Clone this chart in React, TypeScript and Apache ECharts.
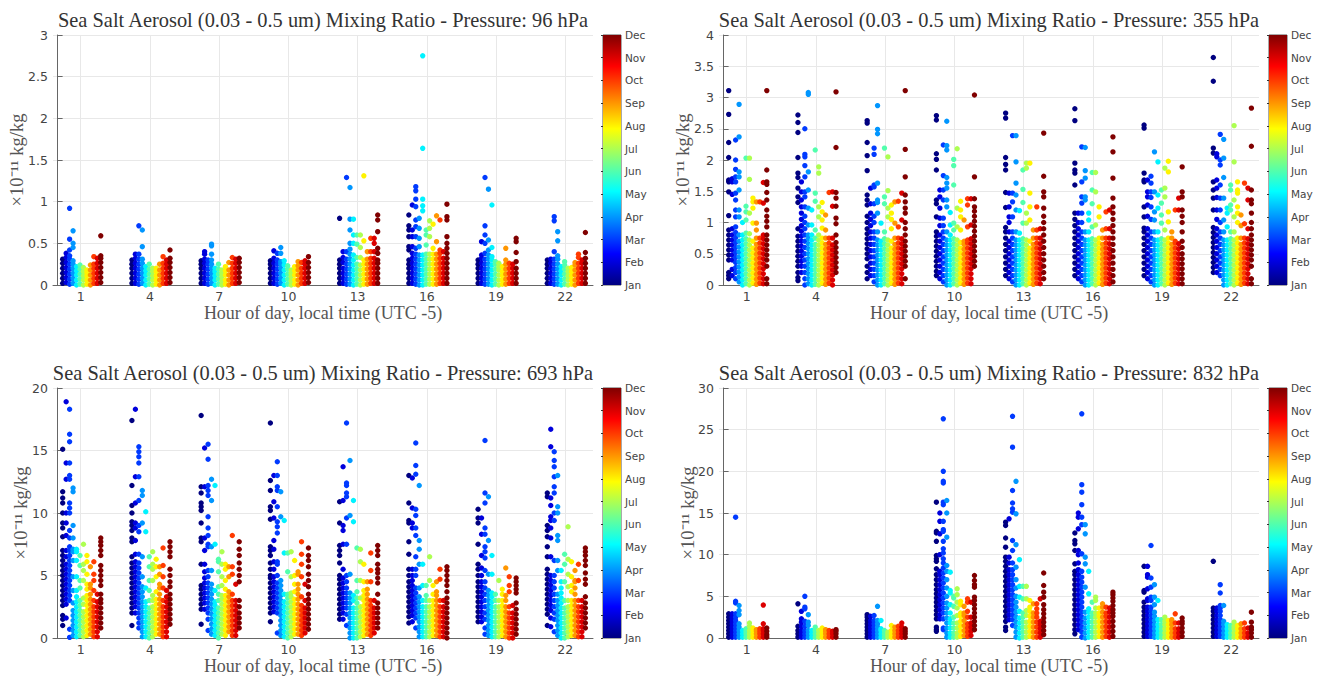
import React, { useEffect, useRef } from "react";
import * as echarts from "echarts";

const months = ["Jan","Feb","Mar","Apr","May","Jun","Jul","Aug","Sep","Oct","Nov","Dec"];
const monthColors = ["#000080","#0000DC","#003AFF","#0096FF","#00F3FF","#52FFAD","#ADFF52","#FFF300","#FF9600","#FF3A00","#DC0000","#800000"];
const hours = [1,4,7,10,13,16,19,22];

// Each hour: Jan..Dec lists of values (x10^-11 kg/kg)
const p96h1 = [[.02,.08,.14,.2,.26,.31],[.03,.09,.15,.21,.27,.33,.38],[.01,.07,.13,.19,.25,.31,.35,.42,.55,.92],[.02,.08,.14,.2,.25,.29,.45,.5,.65],[.0,.06,.12,.17,.22],[.01,.07,.13,.19,.24],[.0,.06,.11,.16,.21],[.01,.06,.11,.15,.18],[.0,.06,.12,.18,.24],[.02,.08,.14,.2,.25,.34],[.02,.08,.14,.2,.26,.32],[.03,.09,.15,.21,.27,.32,.35,.59]];
const p96h4 = [[.02,.08,.14,.2,.25,.3],[.02,.08,.14,.2,.26,.32,.37],[.01,.07,.13,.19,.25,.31,.37,.71],[.02,.08,.14,.2,.26,.31,.46,.66],[.0,.06,.12,.17,.22],[.01,.07,.13,.19,.25],[.0,.06,.11,.16,.2],[.01,.06,.11,.16,.2],[.0,.06,.12,.18,.25],[.02,.08,.14,.2,.26,.34],[.02,.08,.14,.2,.25,.3],[.03,.09,.15,.21,.27,.32,.42]];
const p96h7 = [[.02,.08,.14,.2,.25,.29],[.02,.08,.14,.2,.26,.31,.37,.4],[.01,.07,.13,.19,.25,.3],[.02,.08,.14,.2,.25,.3,.37,.47,.49],[.0,.06,.11,.16,.2],[.01,.07,.13,.19,.25],[.0,.05,.1,.14,.18],[.01,.06,.12,.17,.22],[.0,.06,.12,.18,.27],[.02,.08,.14,.2,.26,.33],[.02,.08,.14,.2,.26,.31],[.03,.09,.15,.21,.27,.32]];
const p96h10 = [[.02,.08,.14,.2,.25,.29],[.02,.08,.14,.2,.26,.32,.41],[.01,.07,.13,.19,.25,.3,.38],[.02,.08,.14,.2,.25,.28,.38,.45],[.0,.06,.12,.18,.24,.29],[.01,.07,.13,.19,.23],[.0,.05,.1,.14,.18],[.01,.06,.12,.17,.22],[.0,.06,.12,.18,.23,.28],[.02,.08,.14,.2,.27],[.02,.08,.14,.2,.25,.29],[.03,.09,.15,.21,.27,.34]];
const p96h13 = [[.02,.08,.14,.2,.25,.3,.8],[.02,.08,.14,.2,.27,.33,.4],[.01,.07,.13,.19,.25,.31,.4,1.29],[.01,.07,.13,.19,.25,.31,.37,.43,.5,.66,.79,1.17],[.0,.06,.12,.18,.24,.3,.36,.5,.6,.79],[.01,.07,.13,.19,.25,.33,.49,.6],[.0,.06,.12,.18,.24,.33,.45,.6],[.01,.07,.13,.19,.25,.3,.53,1.31],[.01,.07,.13,.19,.25,.31,.4],[.02,.08,.14,.2,.26,.32,.4,.56],[.02,.08,.14,.2,.26,.32,.4,.5,.56],[.02,.08,.14,.2,.26,.3,.38,.44,.64,.78,.84]];
const p96h16 = [[.02,.08,.14,.2,.25,.3,.42,.46,.58,.66,.71,.84],[.02,.08,.14,.2,.26,.32,.38,.46,.58,.66,.96],[.01,.07,.13,.19,.25,.31,.37,.44,.58,.7,.78,.94,1.03,1.13,1.18],[.0,.06,.12,.18,.24,.3,.36,.46,.56,.68,.8],[.0,.06,.12,.18,.24,.3,.36,.89,.95,1.03,1.64,2.75],[.01,.07,.13,.19,.25,.31,.37,.48,.6,.66],[.01,.07,.13,.19,.25,.31,.37,.58,.68,.77],[.01,.07,.13,.19,.25,.31,.37,.44,.73],[.01,.07,.13,.19,.25,.31,.37,.52,.83],[.02,.08,.14,.2,.26,.32,.38,.42,.78],[.02,.08,.14,.2,.26,.32,.4],[.02,.08,.14,.2,.26,.32,.38,.44,.5,.58,.78,.82,.97]];
const p96h19 = [[.02,.08,.14,.2,.25,.3],[.02,.08,.14,.2,.26,.32,.36,.52],[.01,.07,.13,.19,.25,.31,.38,.5,.6,.71,1.29],[.01,.07,.13,.19,.25,.31,.36,.42,.54,1.15],[.0,.06,.12,.18,.24,.3,.34,.45,.96],[.01,.07,.13,.19,.25,.28],[.0,.06,.12,.18,.22,.26],[.01,.06,.11,.16,.22],[.01,.07,.13,.19,.25,.3,.44],[.02,.08,.14,.2,.26],[.02,.08,.14,.2,.25],[.02,.08,.14,.2,.28,.39,.52,.56]];
const p96h22 = [[.02,.08,.14,.2,.25,.3],[.02,.08,.14,.2,.26,.31],[.01,.07,.13,.19,.25,.31,.4,.77,.82],[.01,.07,.13,.19,.25,.31,.35,.53,.64],[.0,.06,.12,.17,.22],[.01,.07,.13,.19,.24,.28],[.0,.06,.11,.16,.2],[.01,.06,.11,.16,.21],[.0,.06,.12,.18,.24,.27],[.02,.08,.14,.2,.26,.33,.37],[.02,.08,.14,.2,.26,.3],[.02,.08,.14,.2,.26,.32,.39,.63]];

const p355h1 = [[.1,.15,.2,.4,.48,.56,.64,.72,.8,.88,1.11,1.49,1.65,1.68,2.04,2.28,2.73,3.11],[.15,.25,.4,.48,.56,.64,.72,.8,.9,1.45,1.65,1.7],[.1,.2,.28,.36,.44,.52,.6,.68,.76,.84,.93,1.09,1.2,1.36,1.47,1.65,1.73,1.85,2,2.32],[.05,.13,.21,.29,.37,.45,.53,.61,.7,.8,1.09,1.2,1.52,1.73,1.81,2.37,2.89],[.0,.08,.16,.24,.32,.4,.48,.56,.64,.72,.8,1],[.02,.1,.18,.26,.34,.42,.5,.58,.66,.74,.83,1.04,1.17,1.26,2.03],[.0,.08,.16,.24,.32,.4,.48,.56,.64,.72,.82,1.15,1.69,2.03],[.03,.11,.19,.27,.35,.43,.51,.59,.7,.99,1.23,1.33,1.39],[.01,.09,.17,.25,.33,.41,.49,.57,.65,.75,.88,.99,1.33],[.03,.11,.19,.27,.35,.43,.51,.59,.67,.75,1.33],[.02,.1,.18,.26,.34,.42,.5,.58,.66,.74,.8,1.31,1.64],[.02,.1,.3,.4,.48,.56,.64,.72,.8,.93,1.02,1.1,1.2,1.36,1.48,1.61,1.65,1.84,3.11]];
const p355h4 = [[.07,.12,.2,.3,.38,.46,.54,.62,.7,.78,.9,1.32,1.41,1.55,1.72,1.79,2.04,2.44,2.6,2.72],[.2,.3,.38,.46,.54,.62,.7,.78,.86,.95,1.05,1.15,1.25,1.36,1.49,1.65],[.0,.1,.2,.3,.4,.5,.6,.7,.8,.9,1,1.1,1.25,1.41,1.49,1.73,1.91,2.05,2.09,2.5],[.02,.1,.18,.26,.34,.42,.5,.58,.66,.74,.8,.96,1.23,1.52,1.81,3.05,3.08],[.0,.08,.16,.24,.32,.4,.48,.56,.64,.72,.8,.96,1.2],[.01,.09,.17,.25,.33,.41,.49,.57,.65,.75,.88,1.34,1.47,2.16],[.0,.08,.16,.24,.32,.4,.48,.56,.64,.72,.8,1.09,1.25,1.79,1.89],[.03,.11,.19,.27,.35,.43,.51,.59,.67,.75,.91,1.04,1.17,1.32],[.01,.09,.17,.25,.33,.41,.49,.57,.65,.75,.88,1.12],[.03,.11,.19,.27,.35,.43,.51,.59,.67,.75,1.48],[.0,.08,.16,.24,.32,.4,.48,.56,.64,.75,1.26,1.49],[.2,.28,.36,.44,.52,.6,.68,.8,.98,1.07,1.26,1.39,1.48,2.2,3.09]];
const p355h7 = [[.1,.2,.3,.42,.5,.58,.66,.74,.82,.9,1,1.1,1.28,1.36,1.44,1.83,2.07,2.28,2.59,2.63],[.15,.25,.35,.45,.55,.65,.75,.85,.95,1.05,1.15,1.3,1.55],[.05,.15,.25,.35,.45,.55,.65,.75,.85,1,1.1,1.3,1.57,1.6,2.09,2.19],[.0,.08,.16,.24,.32,.4,.48,.56,.64,.72,.85,1.15,1.32,1.36,1.63,2.42,2.49,2.87],[.0,.08,.16,.24,.32,.4,.48,.56,.64,.7,.99],[.02,.1,.18,.26,.34,.42,.5,.58,.66,.74,.85,1.3,1.41,2.19],[.0,.08,.16,.24,.32,.4,.48,.56,.64,.72,1.09,1.23,1.51,2.05],[.03,.11,.19,.27,.35,.43,.51,.59,.7,.9,1.05,1.15,1.28],[.01,.09,.17,.25,.33,.41,.49,.57,.65,.75,.99,1.33],[.03,.11,.19,.27,.35,.43,.51,.59,.67,.75,.93,1.34],[.02,.1,.18,.26,.34,.42,.5,.58,.66,.74,1.04,1.47],[.1,.3,.38,.46,.54,.62,.7,.8,.9,1,1.15,1.23,1.33,1.44,1.73,2.17,3.11]];
const p355h10 = [[.15,.22,.3,.38,.46,.54,.62,.7,.78,.85,1.09,1.3,1.36,1.84,2.01,2.1,2.64,2.71],[.1,.2,.3,.4,.5,.6,.7,.8,.95,1.07,1.23,1.41,1.52],[.05,.15,.25,.35,.45,.55,.65,.75,.85,.95,1.07,1.36,1.52,1.75,2.24],[.0,.08,.16,.24,.32,.4,.48,.56,.64,.72,.85,1.25,1.36,1.55,1.63,1.72,2.16,2.23,2.62],[.0,.08,.16,.24,.32,.4,.48,.56,.64,.72,.8,.96,1.16],[.02,.1,.18,.26,.34,.42,.5,.58,.66,.74,.88,.99,1.6,1.91,2.01],[.0,.08,.16,.24,.32,.4,.48,.56,.64,.72,.93,1.23,2.18],[.03,.11,.19,.27,.35,.43,.51,.59,.68,.88,1.09,1.2,1.34],[.01,.09,.17,.25,.33,.41,.49,.57,.65,.7,1.04],[.03,.11,.19,.27,.35,.43,.51,.59,.67,.72,.93,1.28,1.38],[.02,.1,.18,.26,.34,.42,.5,.58,.66,.74,.96,1.38],[.3,.38,.46,.54,.62,.7,.78,.86,.94,1.02,1.1,1.18,1.25,1.38,1.73,3.04]];
const p355h13 = [[.15,.25,.35,.45,.55,.65,.75,.85,.92,1.24,1.48,1.84,1.93,2.04,2.67,2.75],[.1,.2,.3,.4,.5,.6,.7,.85,1,1.09,1.25,1.47],[.05,.15,.25,.35,.45,.55,.65,.75,.85,1.09,1.33,1.47,2.39],[.0,.08,.16,.24,.32,.4,.48,.56,.64,.72,.85,1.2,1.44,1.63,1.97,2.39],[.0,.08,.16,.24,.32,.4,.48,.56,.64,.72,.83,1.19],[.02,.1,.18,.26,.34,.42,.5,.58,.66,.74,.99,1.32,1.53,1.84],[.0,.08,.16,.24,.32,.4,.48,.56,.64,.72,.99,1.15,1.87,1.95],[.03,.11,.19,.27,.35,.43,.51,.59,.7,1.04,1.25,1.47,1.95],[.01,.09,.17,.25,.33,.41,.49,.57,.65,.75,.88],[.03,.11,.19,.27,.35,.43,.51,.59,.67,.75,.88,1.25],[.02,.1,.18,.26,.34,.42,.5,.58,.66,.75,.9],[.1,.2,.3,.4,.5,.6,.7,.8,.9,1,1.1,1.23,1.41,1.49,1.74,2.43]];
const p355h16 = [[.15,.25,.35,.45,.55,.65,.75,.85,.95,1.05,1.15,1.6,1.79,1.84,1.95,2.63,2.82],[.1,.2,.3,.4,.5,.6,.7,.8,.9,1,1.15],[.05,.15,.25,.35,.45,.55,.65,.75,.85,1,1.15,1.31,1.41,1.65,2.21],[.0,.08,.16,.24,.32,.4,.48,.56,.64,.72,.85,1.36,1.41,1.71,1.83,2.2],[.0,.08,.16,.24,.32,.4,.48,.56,.64,.72,.85,1.04,1.15],[.02,.1,.18,.26,.34,.42,.5,.58,.66,.74,.93,1.3,1.52,1.8],[.0,.08,.16,.24,.32,.4,.48,.56,.64,.72,.96,1.49,1.8],[.03,.11,.19,.27,.35,.43,.51,.59,.67,.75,1.09,1.25],[.01,.09,.17,.25,.33,.41,.49,.57,.65,.75,.88],[.03,.11,.19,.27,.35,.43,.51,.59,.67,.75,.9,1.17],[.02,.1,.18,.26,.34,.42,.5,.58,.66,.75,.9,1.2],[.05,.15,.25,.35,.45,.55,.65,.75,.85,.95,1.05,1.15,1.25,1.39,1.71,2.13,2.37]];
const p355h19 = [[.15,.25,.35,.45,.55,.65,.75,.85,.91,1.09,1.25,1.65,1.68,1.79,2.51,2.56],[.1,.2,.3,.4,.5,.6,.7,.8,.9,1.1,1.28,1.41,1.49,1.68],[.05,.15,.25,.35,.45,.55,.65,.75,.85,1.05,1.25,1.4,1.49,1.63,1.74],[.0,.08,.16,.24,.32,.4,.48,.56,.64,.72,.85,1.04,1.17,1.49,2.13],[.0,.08,.16,.24,.32,.4,.48,.56,.64,.72,.85,1.23,1.44,1.97],[.02,.1,.18,.26,.34,.42,.5,.58,.66,.74,.99,1.12,1.31,1.52],[.0,.08,.16,.24,.32,.4,.48,.56,.64,.72,.88,1.41,1.55,1.87],[.03,.11,.19,.27,.35,.43,.51,.59,.67,.75,1.01,1.17,1.81,1.98],[.01,.09,.17,.25,.33,.41,.49,.57,.65,.75,.85],[.03,.11,.19,.27,.35,.43,.51,.59,.67,.7,1.2],[.02,.1,.18,.26,.34,.42,.5,.58,.66,1.2,1.39],[.02,.1,.18,.26,.34,.42,.5,.6,.7,.85,1,1.1,1.2,1.41,1.49,1.89]];
const p355h22 = [[.2,.28,.36,.44,.52,.6,.68,.76,.84,.92,1.2,1.39,1.52,1.65,2.11,2.19,3.26,3.64],[.2,.3,.4,.5,.6,.7,.8,.9,1.05,1.2,1.4,1.55,1.68,2.05,2.1],[.15,.25,.35,.45,.55,.65,.75,.85,1,1.2,1.39,1.6,1.92,2,2.41],[.0,.08,.16,.24,.32,.4,.48,.56,.64,.72,.85,1.04,1.39,1.72,2.03,2.33],[.0,.08,.16,.24,.32,.4,.48,.56,.64,.72,.93,1.15,1.23],[.02,.1,.18,.26,.34,.42,.5,.58,.66,.74,.85,1.2,1.28,1.52,1.6],[.0,.08,.16,.24,.32,.4,.48,.56,.64,.72,.85,1.09,1.36,1.97,2.55],[.03,.11,.19,.27,.35,.43,.51,.59,.67,.75,1,1.15,1.25,1.47,1.52,1.65],[.01,.09,.17,.25,.33,.41,.49,.57,.65,.75,.95,1.12],[.03,.11,.19,.27,.35,.43,.51,.59,.67,.75,.98,1.63],[.02,.1,.18,.26,.34,.42,.5,.58,.66,.74,.9,1.36,1.55],[.02,.1,.3,.4,.48,.56,.64,.72,.8,.9,1,1.15,1.3,1.36,1.52,2.22,2.83]];

const p693h1 = [[1,1.5,1.8,2.6,3,3.4,3.8,4.2,4.6,5,5.4,5.8,6.2,6.6,7,8.1,8.8,9.2,10,10.8,11.2,11.7,15.1],[1.6,2.7,3.1,3.5,3.9,4.3,4.7,5.1,5.5,5.9,6.5,7,8.2,9.2,10,12.7,14,18.9],[.05,.7,3,3.4,3.8,4.2,4.6,5,5.4,5.8,6.2,6.6,7,7.3,8,8.6,10,10.4,10.8,12.7,13,14,15.7,16.3,18.3],[.2,.6,1,1.4,1.8,2.2,2.8,3.8,4.9,6.2,6.9,7.1,8,9,11.7,12],[.1,.5,.9,1.3,1.7,2.1,2.5,2.9,3.3,3.8,4.9,6.2,6.9,7.1],[.2,.6,1,1.4,1.8,2.2,2.6,3,4,4.6,5.8,6.6],[.1,.5,.9,1.3,1.7,2.1,2.7,3.2,4.6,5.4,5.9,7.5],[.2,.6,1,1.4,1.8,2.2,2.6,3,3.4,3.9,4.3,5.1,6.1,6.6],[.3,.7,1.1,1.5,1.9,2.3,2.7,3.1,3.5,4,4.3,5.7],[.1,.5,.9,1.3,1.7,2.1,2.5,3,3.8,4.6,5.1,6.1],[.1,.5,.9,1.3,1.7,2.1,2.5,2.9,3.5],[.8,1.2,1.6,2,2.4,2.8,3.1,3.5,4.2,4.6,5,5.4,5.8,6.6,7,7.4,7.7,8]];
const p693h4 = [[1,2,2.4,2.8,3.2,3.6,4,4.4,4.8,5.2,5.6,6,6.5,7.7,8,8.6,9,9.3,10,10.6,12.2,17.4],[2,2.5,2.9,3.3,3.7,4.1,4.5,4.9,5.3,5.7,6.1,6.7,7.8,8.8,9.2,10.8,12.9,18.3],[.8,1.2,1.6,2,2.4,2.8,3.2,3.6,4,4.4,4.8,5.2,5.6,6,6.7,8.5,9,11,12.9,14,14.5,14.9,15.3],[.1,.5,.9,1.3,1.7,2.1,2.5,2.9,3.3,3.7,4.1,4.9,6.5,9.2,11.4,11.8],[.1,.5,.9,1.3,1.7,2.1,2.5,2.9,4,8.5,10.1],[.0,.4,.8,1.2,1.6,2,2.4,3,3.8,4.6,5.7,6.5],[.1,.5,.9,1.3,1.7,2.1,2.5,3,3.4,4.6,5.5,5.9,6.9],[.3,.7,1.1,1.5,1.9,2.3,2.7,3.1,3.7,4.9,5.7,6.3],[.3,.7,1.1,1.5,1.9,2.3,2.7,3.1,3.5,4,4.3,5.1,5.7],[.1,.5,.9,1.3,1.7,2.1,2.5,3,4,4.9,5.8,7.2],[.1,.5,.9,1.3,1.7,2.1,2.5,2.9,3.3,3.8],[1.1,1.5,1.9,2.3,2.7,3.1,3.5,4.1,4.5,5,5.5,6.5,6.9,7.3,7.7]];
const p693h7 = [[1.1,2.3,2.7,3.1,3.5,3.9,4.2,5.9,7.7,8,9.2,10.2,10.5,10.8,11.6,12.1,17.8],[2.3,2.8,3.2,3.6,4,4.4,4.8,5.3,5.9,7,8,12.1,15.2],[.6,1.5,2,2.4,2.8,3.2,3.6,4,4.4,4.9,5.4,7.3,7.5,8.2,8.8,9.7,11.4,11.8,12.2,14.3,15.5],[.3,.7,1.1,1.5,1.9,2.3,2.7,3.1,3.5,3.9,4.3,5.4,7.3,11,12.7],[.2,.6,1,1.4,1.8,2.2,2.6,2.9,3.8,7.5,12.2],[.0,.4,.8,1.2,1.6,2,2.4,3,3.5,4.1,5.3,6.1,6.3],[.3,.7,1.1,1.5,1.9,2.3,2.7,3.1,3.4,4.2,4.9,5.9,6.9],[.2,.6,1,1.4,1.8,2.2,2.6,3,3.4,3.9,4.6,5.5,5.9],[.5,.9,1.3,1.7,2.1,2.5,2.9,3.3,3.7,4.9,5.7],[.2,.6,1,1.4,1.8,2.2,2.6,3,3.5,5.1,5.7,8.2],[.2,.6,1,1.4,1.8,2.2,2.6,3,4.3],[.8,1.2,1.6,2,2.5,3,4.5,5,5.5,6,6.6,7.1,7.7]];
const p693h10 = [[1.3,2,2.4,2.8,3.2,3.6,4,4.4,4.8,5,5.5,6,6.6,7,7.3,9.5,10.2,10.5,11.8,12.6,17.2],[2.1,2.5,2.9,3.3,3.7,4.1,4.5,4.9,5.5,6.1,7.1,7.8,9.6,10.9,13],[.4,2,2.4,2.8,3.2,3.6,4,4.4,5,5.9,6.1,8.4,8.9,9.3,10.5,11.8,12.1,13,14.1],[.2,.6,1,1.4,1.8,2.2,2.6,3,3.4,3.8,4.2,4.6,9.7,11.7],[.1,.5,.9,1.3,1.7,2.1,2.5,2.9,3.5,6.8,9.4],[.0,.4,.8,1.2,1.6,2,2.4,2.8,3.2,3.5,5.3,6.8],[.1,.5,.9,1.3,1.7,2.1,2.5,2.9,3.3,3.6,4.9,6.9],[.3,.7,1.1,1.5,1.9,2.3,2.7,3.1,3.7,4.3,5,6.2],[.3,.7,1.1,1.5,1.9,2.3,2.7,3.1,3.5,3.9,4.3,5.1,5.3],[.2,.6,1,1.4,1.8,2.2,2.6,3.3,4.9,5.9,6.7,7.7],[.4,.8,1.2,1.6,2,2.4,3,4.3],[.7,1.1,1.5,1.9,2.3,2.7,3.1,3.5,4.1,4.6,5.1,5.7,6.2,6.6,7.2]];
const p693h13 = [[1.5,1.9,2.3,2.7,3.1,3.5,3.9,4.3,4.7,5,6,6.6,7,7.4,9.2,10.9],[1.5,2,2.4,2.8,3.2,3.6,4,4.4,4.8,5.5,7.5,8.6,9,11,13.7],[1,1.9,2.4,2.8,3.2,3.6,4,4.5,5,7.5,9.6,11.3,11.6,12.2,12.4,17.2],[.0,.4,.8,1.2,1.6,2,2.4,2.8,3.2,3.6,5.1,9.8,14.2],[.0,.4,.8,1.2,1.6,2,2.4,3,3.4,9.3,11],[.0,.4,.8,1.2,1.6,2,2.4,2.8,3.2,3.7,4.6,7.2],[.1,.5,.9,1.3,1.7,2.1,2.5,3.2,4.6,6.1,7.1],[.2,.6,1,1.4,1.8,2.2,2.6,3,3.4,3.8,4.5,5.9],[.3,.7,1.1,1.5,1.9,2.3,2.7,3.1,3.5,3.9,4.5],[.2,.6,1,1.4,1.8,2.2,2.6,3,4.5,5.4,6.8],[.4,.8,1.2,1.6,2,2.4,3],[.8,1.2,1.6,2,2.4,2.8,3.5,4.4,4.8,5.2,5.5,5.9,6.6,7,7.4]];
const p693h16 = [[1.2,1.7,2.1,2.5,2.9,3.3,3.7,4.1,4.5,5,5.5,6.7,7.7,9.2,9.4,10.8,13],[1.3,1.8,2.2,2.6,3,3.4,3.8,4.2,4.6,5,5.5,8.8,9.2,10.4,12.8],[.8,1.6,2,2.4,2.8,3.2,3.6,4,5,5.5,6.5,8.2,8.8,9.8,10.3,13.1,13.8,15.6],[.1,.5,.9,1.3,1.7,2.1,2.5,2.9,3.3,4,5.9,7.1,7.8,12.2],[.1,.5,.9,1.3,1.7,2.1,2.5,3,4.2,5.9],[.1,.5,.9,1.3,1.7,2.1,2.5,3,3.4,4.2],[.1,.5,.9,1.3,1.7,2.1,2.5,3,4.6,6.5],[.2,.6,1,1.4,1.8,2.2,2.6,3,3.5,4.2],[.2,.6,1,1.4,1.8,2.2,2.6,3,3.4,3.7,4.5],[.1,.5,.9,1.3,1.7,2.1,2.5,3,4.7,5.5],[.1,.5,.9,1.3,1.7,2.1,2.5,3],[.0,.4,.8,1.2,1.6,2,2.4,2.8,3.2,3.7,4.2,4.6,5,5.4,5.7]];
const p693h19 = [[1.3,1.7,2.1,2.5,2.9,3.3,3.7,4.1,4.5,5,5.5,5.9,7.5,9.2,9.6,10.3],[1.3,1.7,2.1,2.5,2.9,3.3,3.7,4.1,4.5,5,5.6,6.6,8.3,9.6],[.3,.8,1.5,2,2.5,3,3.5,4,4.5,5.4,6.4,6.9,7.3,8.3,8.8,10.8,11.6,15.8],[.2,.6,1,1.4,1.8,2.2,2.6,3,3.4,3.8,5.1,7.8,11.3],[.1,.5,.9,1.3,1.7,2.1,2.5,2.9,3.3,3.6,5.1,6.6],[.1,.5,.9,1.3,1.7,2.1,2.5,3,3.5],[.1,.5,.9,1.3,1.7,2.1,2.5,3,4.6],[.2,.6,1,1.4,1.8,2.2,2.6,3,3.5,3.9],[.1,.5,.9,1.3,1.7,2.1,2.5,3,3.4,5.6],[.0,.4,.8,1.2,1.6,2,2.5,3.7,4.2,4.9],[.0,.4,.8,1.2,1.6,2,2.6],[.3,.7,1.1,1.5,1.9,2.3,2.8,3.6,3.9,4.2,4.5,4.8]];
const p693h22 = [[1,1.9,2.3,2.7,3.1,3.5,3.9,4.3,4.7,5.1,5.5,6.5,7.3,8.1,8.6,9,11.3,11.6],[.9,1.6,2.2,2.6,3,3.4,3.8,4.2,4.6,5,6.5,8,8.8,9.4,9.7,10.6,11.2,15.3,16.7],[.5,1.5,2,2.5,3,3.5,4,4.5,5,6.2,9.4,10,11.6,12.1,12.9,13.7,14.2,14.9],[.2,.6,1,1.4,1.8,2.2,2.6,3,3.5,5.4,6.2,7.8,8.2,10,10.5,13],[.0,.4,.8,1.2,1.6,2,2.4,2.8,3.2,3.6,4,4.5,5.4],[.0,.4,.8,1.2,1.6,2,2.4,3,4.5,5.9,6.7],[.1,.5,.9,1.3,1.7,2.1,2.5,3,4.1,5.1,6.3,8.9],[.2,.6,1,1.4,1.8,2.2,2.6,3,3.7,4.2,4.9,6.1],[.2,.6,1,1.4,1.8,2.2,2.6,3,3.5,4,4.5,4.6,5.4],[.1,.5,.9,1.3,1.7,2.1,2.5,3,4.6,5.9],[.1,.5,.9,1.3,1.7,2.1,2.5,3],[.8,1.2,1.6,2,2.4,2.8,3.3,4.3,4.7,5.2,5.8,6.2,6.6,6.9,7.2]];

const p832h1 = [[.1,.5,.9,1.3,1.7,2.1,2.5,2.9],[.1,.5,.9,1.3,1.7,2.1,2.5,2.9],[.1,.5,.9,1.3,1.7,2.1,2.5,2.9,4.2,4.4,14.5],[.1,.5,.9,1.3,1.7,2.8,3.3,3.9],[.1,.5,.9],[.1,.5,.8,1.1],[.1,.5,.9,1.4,1.8],[.1,.5,.9,1.2],[.1,.5,.8,1],[.1,.5,.8,1.1],[.1,.5,.9,1.1,1.7,3.95],[.1,.4,.8,1.2]];
const p832h4 = [[.1,.5,.9,1.4,4.1],[.1,.5,.9,1.4,1.9,2.3,3.2],[.1,.5,.9,1.4,2,3.5,3.7,5],[.1,.5,.9,1.5,1.9,2.8],[.1,.5,.9],[.1,.5,.9,1.3],[.1,.5,.9],[.1,.5,.9,1.2],[.1,.5,.8,1],[.1,.5,.9],[.1,.5,.8],[.1,.5,.8,1]];
const p832h7 = [[.1,.5,.9,1.3,1.7,2.1,2.5,2.8],[.1,.5,.9,1.3,1.7,2.1,2.6],[.1,.5,.9,1.3,1.7,2.1,2.7],[.1,.5,.9,1.3,1.7,2.1,3.8],[.1,.5,.9,1.1,2.1],[.1,.5,.9],[.1,.4,.7],[.1,.5,.9,1.5],[.1,.5,.9,1.3],[.1,.5,.9,1.4],[.1,.5,.9,1.3,1.8],[.1,.5,.8,1.1]];
const p832h10 = [[.8,1,1.3,2.3,2.8,3.3,3.8,4.3,4.8,5.3,5.8,6.4,7,7.6,8.3,9.2,9.5,9.9,11.6,12.6,12.8,16.3],[2.3,2.8,3.4,4,4.6,5.2,5.8,6.4,7,7.6,8,10,12.5,14,15],[1,1.2,2.3,3,3.6,4.2,4.8,5.4,6,6.6,7.2,7.8,8.4,9,9.5,10.2,10.7,11.6,12.8,13,14,16,16.3,18.6,18.8,20,26.3],[.1,.6,1.2,1.8,2.4,3,3.6,4.2,5,6,7,8,8.7,12.1,15,16.5],[.1,.6,1.2,1.8,2.3,3,4,5.4,5.7,7.9],[.1,.6,1.2,1.8,2.5,3.8,4.8,5],[.1,.6,1.2,1.8,2.7,3.6,4.3,5.2,5.9],[.2,.8,1.4,2,2.6,3,4,4.4],[.3,.9,1.5,2.1,2.7,3,3.8],[.2,.7,1.2,1.7,2.5,3.2,4.3,4.7],[.3,.8,1.3,1.8,2.5,4.3],[1,1.5,2,2.5,3,3.5,4,4.5,4.9,6.1,6.4,6.9,7.5]];
const p832h13 = [[.9,1.3,2,2.6,3.2,3.8,4.4,5,5.6,6.2,6.8,7.4,8,8.6,9.2,9.7,10.9,12,13.5,13.9],[2.2,2.8,3.4,4,4.6,5.2,5.8,6.4,7,7.6,8.2,9,9.7,14.3],[1.5,2.2,2.8,3.4,4,4.6,5.2,5.8,6.4,7,7.6,8.2,9,10.5,11.7,15.1,15.5,16.2,17.7,22.9,26.6],[.1,.7,1.3,1.9,2.5,3.1,3.7,4.3,5,6,7,8.5,11.2,14.9,18.8],[.0,.6,1.2,1.8,2.4,3.2,4.9,6.2,9.4],[.1,.7,1.3,1.9,2.5,3,4.7,6.2],[.1,.7,1.3,1.9,2.7,3.3,4.7,6.2],[.2,.8,1.4,2,2.6,3.2,3.7,4.5],[.1,.7,1.3,1.9,2.5,3,4.1],[.1,.7,1.3,1.9,2.5,3,3.5,4.1],[.1,.6,1.1,1.6,2,4.7],[.4,.9,1.4,1.9,2.4,2.9,3.4,4,4.9,5.5,6.3,7.8]];
const p832h16 = [[.5,1,1.6,2.2,2.8,3.4,4,4.6,5.2,5.8,6.4,7,7.6,8,8.9,10.5,11.3,11.7,12.6],[1,1.6,2.2,2.8,3.4,4,4.6,5.2,5.8,6.4,7,7.6,8.2,9,10,10.5,13.1,14.5,15],[.1,.7,1.3,1.9,2.5,3.1,3.7,4.3,4.9,5.5,6.1,6.7,7.3,8,10.1,13.6,14.5,16,17.5,18.4,26.9],[.0,.6,1.2,1.8,2.4,3.1,6.1,8.9,9.7,12.5,13.6],[.1,.7,1.3,1.9,2.5,3.1,3.5,5.3,8],[.1,.7,1.3,1.9,2.5,3,4.3],[.1,.7,1.3,1.9,2.5,3,3.6,4.5,4.9],[.2,.8,1.4,2,2.6,3,3.6],[.1,.7,1.3,1.9,2.5,3.1,3.7,4.1],[.2,.8,1.4,2,2.6,3,3.7],[.1,.7,1.3,1.9,2.5,3.1,3.6],[.2,.8,1.4,2,2.6,3,3.4,3.9,4.4,4.8,5.2,5.5]];
const p832h19 = [[.2,.7,1.2,1.7,2.2,2.7,3.2,3.7,4.3,5.5,5.7,8.6],[.2,.7,1.2,1.7,2.2,2.7,3.2,3.7,4.5,4.7,5.9,7.3,7.6,8.6],[.2,.7,1.2,1.7,2.2,2.7,3.2,3.7,4.5,4.9,6.1,7.2,11.1],[.1,.6,1.1,1.6,2.1,2.6,3.1,4,4.9,6.4],[.1,.6,1.1,1.6,2.2,4.5],[.1,.6,1.1,1.6,2.2],[.1,.6,1.1,1.6,2,2.5],[.1,.6,1.1,1.6,2.1],[.1,.6,1.1,1.6,2,2.2],[.1,.6,1.1,1.8,2.9],[.1,.6,1.1,1.8],[.2,.7,1.2,1.7,2,2.4]];
const p832h22 = [[.2,.7,1.2,1.7,2.2,2.7,3.2,3.6,9.2],[.2,.7,1.2,1.7,2.2,2.7,3.2,3.6],[.2,.7,1.2,1.7,2.2,2.7,3.2,3.6,3.9,5.4,6.4],[.1,.6,1.1,1.6,2,3.9],[.1,.6,1.1,1.6],[.1,.6,1.1,1.5],[.1,.6,1.1,1.4,1.9],[.1,.6,1.1,1.5],[.1,.6,1.1,1.7],[.1,.6,1.1,1.8],[.1,.6,1.2],[.1,.6,1,1.3,1.9,3.1]];

const panels = [
  { title: "Sea Salt Aerosol (0.03 - 0.5 um) Mixing Ratio - Pressure: 96 hPa", yMax: 3, step: .5, hours: [p96h1,p96h4,p96h7,p96h10,p96h13,p96h16,p96h19,p96h22], left: 53, top: 35, gap: 27 },
  { title: "Sea Salt Aerosol (0.03 - 0.5 um) Mixing Ratio - Pressure: 355 hPa", yMax: 4, step: .5, hours: [p355h1,p355h4,p355h7,p355h10,p355h13,p355h16,p355h19,p355h22], left: 719, top: 35, gap: 27 },
  { title: "Sea Salt Aerosol (0.03 - 0.5 um) Mixing Ratio - Pressure: 693 hPa", yMax: 20, step: 5, hours: [p693h1,p693h4,p693h7,p693h10,p693h13,p693h16,p693h19,p693h22], left: 53, top: 388, gap: 23 },
  { title: "Sea Salt Aerosol (0.03 - 0.5 um) Mixing Ratio - Pressure: 832 hPa", yMax: 30, step: 5, hours: [p832h1,p832h4,p832h7,p832h10,p832h13,p832h16,p832h19,p832h22], left: 719, top: 388, gap: 22 },
];

const PLOT_W = 540, PLOT_H = 250, BAR_GAP = 10, BAR_W = 18;
const SERIF = "'Liberation Serif', serif";
const SANS = "'DejaVu Sans', sans-serif";
const jetStops = [[0,"#000080"],[.125,"#0000FF"],[.375,"#00FFFF"],[.625,"#FFFF00"],[.875,"#FF0000"],[1,"#800000"]];

function buildOption() {
  const grid: any[] = [], xAxis: any[] = [], yAxis: any[] = [], series: any[] = [], title: any[] = [];
  panels.forEach((p, i) => {
    grid.push({ left: p.left, top: p.top, width: PLOT_W, height: PLOT_H, containLabel: false, outerBoundsMode: "none" });
    title.push({ text: p.title, left: p.left + PLOT_W / 2, top: p.top - 25, textAlign: "center", padding: 0,
      textStyle: { fontFamily: SERIF, fontSize: 20.4, fontWeight: "normal", color: "#333" } });
    xAxis.push({ gridIndex: i * 2, type: "value", min: -0.2, max: 23.2,
      name: "Hour of day, local time (UTC -5)", nameLocation: "middle", nameGap: 19, nameMoveOverlap: false,
      nameTextStyle: { fontFamily: SERIF, fontSize: 18, color: "#555" },
      axisLine: { show: true, onZero: false, lineStyle: { color: "#666" } },
      axisTick: { show: true, inside: true, length: 3, customValues: hours, lineStyle: { color: "#666" } },
      axisLabel: { customValues: hours, fontFamily: SANS, fontSize: 12.5, color: "#444", margin: 5 },
      splitLine: { show: true, lineStyle: { color: "#e8e8e8" } } });
    yAxis.push({ gridIndex: i * 2, type: "value", min: 0, max: p.yMax, interval: p.step,
      name: "×10⁻¹¹ kg/kg", nameLocation: "middle", nameGap: p.gap, nameRotate: 90, nameMoveOverlap: false,
      nameTextStyle: { fontFamily: SERIF, fontSize: 18.5, color: "#555" },
      axisLine: { show: true, lineStyle: { color: "#666" } },
      axisTick: { show: true, inside: true, length: 5, lineStyle: { color: "#666" } },
      axisLabel: { fontFamily: SANS, fontSize: 12.5, color: "#444", margin: 5 },
      splitLine: { show: true, lineStyle: { color: "#e8e8e8" } } });
    // colour bar grid
    grid.push({ left: p.left + PLOT_W + BAR_GAP, top: p.top, width: BAR_W, height: PLOT_H, show: true, borderColor: "#555", borderWidth: 1, backgroundColor: "transparent", outerBoundsMode: "none" });
    xAxis.push({ gridIndex: i * 2 + 1, type: "value", min: 0, max: 1, show: false });
    yAxis.push({ gridIndex: i * 2 + 1, type: "value", min: 0, max: 11, interval: 1, position: "right",
      axisLine: { show: false }, splitLine: { show: false },
      axisTick: { show: true, inside: true, length: 2, lineStyle: { color: "#333" } },
      axisLabel: { formatter: (v: number) => months[v], fontFamily: SANS, fontSize: 10.5, color: "#444", margin: 4 } });
    series.push({ type: "custom", xAxisIndex: i * 2 + 1, yAxisIndex: i * 2 + 1, silent: true, data: [[0, 0]],
      renderItem: (_: any, api: any) => {
        const a = api.coord([0, 11]), b = api.coord([1, 0]);
        return { type: "rect", shape: { x: a[0], y: a[1], width: b[0] - a[0], height: b[1] - a[1] },
          style: { fill: new echarts.graphic.LinearGradient(0, 1, 0, 0, jetStops.map(([offset, color]) => ({ offset, color }))) } };
      } });
    months.forEach((m, mi) => {
      const data: number[][] = [];
      p.hours.forEach((cols, hi) => cols[mi].forEach((v: number) => data.push([hours[hi] - 0.78 + 0.15 * mi, v])));
      series.push({ type: "scatter", name: m, xAxisIndex: i * 2, yAxisIndex: i * 2, data, symbolSize: 5.4, clip: false, silent: true,
        itemStyle: { color: monthColors[mi], opacity: 1 } });
    });
  });
  return { animation: false, backgroundColor: "#fff", title, grid, xAxis, yAxis, series };
}

export default function App() {
  const ref = useRef<HTMLDivElement>(null);
  useEffect(() => {
    const chart = echarts.init(ref.current!, undefined, { renderer: "svg" });
    chart.setOption(buildOption() as any);
    return () => chart.dispose();
  }, []);
  return <div ref={ref} style={{ position: "absolute", left: 0, top: 0, width: 1317, height: 677 }} />;
}
